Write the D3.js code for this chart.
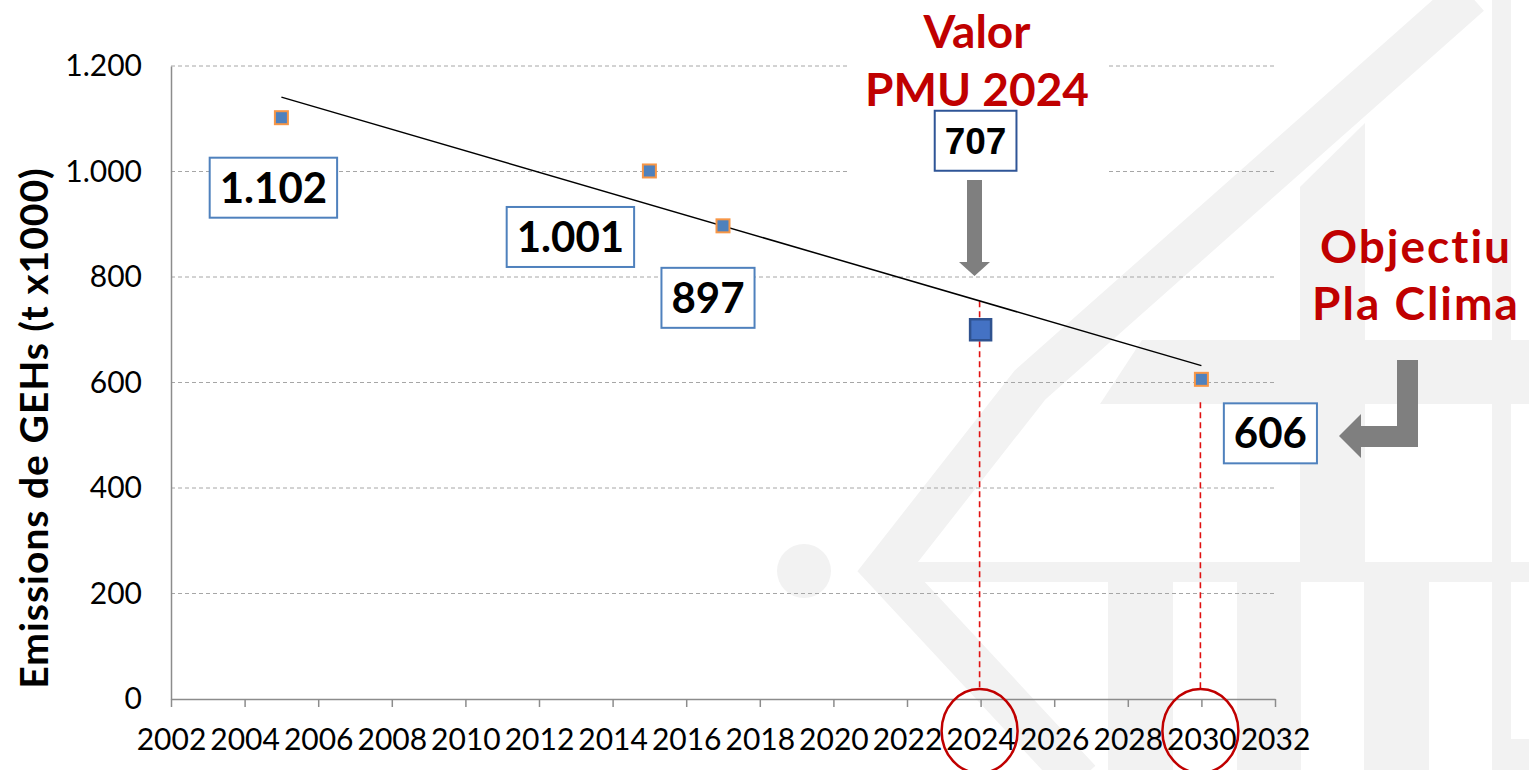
<!DOCTYPE html>
<html>
<head>
<meta charset="utf-8">
<script src="https://cdn.jsdelivr.net/npm/d3@7"></script>
<style>
  body { margin: 0; background: #fff; }
  svg { display: block; }
</style>
</head>
<body>
<svg id="chart"></svg>
<script>
// Data
const years = [2005, 2015, 2017, 2030];
const emissions = [1102, 1001, 897, 606];
const labelTexts = ["1.102", "1.001", "897", "606"];
const pmuYear = 2024;
const pmuValue = 700;
const pmuLabel = "707";
const trendYears = [2005, 2030];
const trendValues = [1141, 632];
const highlightYears = [2024, 2030];
const xTicks = [2002, 2004, 2006, 2008, 2010, 2012, 2014, 2016, 2018, 2020, 2022, 2024, 2026, 2028, 2030, 2032];
const yTicks = [0, 200, 400, 600, 800, 1000, 1200];
const yTitle = "Emissions de GEHs (t x1000)";
const pmuTitle = ["Valor", "PMU 2024"];
const goalTitle = ["Objectiu", "Pla Clima"];

const W = 1529, H = 770;
const plot = { left: 171, right: 1275, top: 66, bottom: 699 };

const svg = d3.select("#chart").attr("width", W).attr("height", H);

const x = d3.scaleLinear().domain([2002, 2032]).range([plot.left, plot.right]);
const y = d3.scaleLinear().domain([0, 1200]).range([plot.bottom, plot.top]);

const locale = d3.formatLocale({ decimal: ",", thousands: ".", grouping: [3], currency: ["", "€"] });
const fmt = locale.format(",d");

const tickFont = "Lato, 'Open Sans', sans-serif";
const boldFont = "Lato, 'Open Sans', sans-serif";

// Background watermark (light grey logo)
const wm = svg.append("g").attr("fill", "#f2f2f2").attr("stroke", "none");
wm.append("path")
    .attr("d", "M1470,-5 L1030,385 L885,570 L1080,780")
    .attr("fill", "none").attr("stroke", "#f2f2f2").attr("stroke-width", 42)
    .attr("stroke-linejoin", "miter");
wm.append("circle").attr("cx", 804).attr("cy", 571).attr("r", 27);
wm.append("path").attr("d", "M1142,340 L1529,340 L1529,404 L1100,404 Z");
wm.append("path").attr("d", "M917,562 L1529,562 L1529,582 L917,582 L905,572 Z");
wm.append("path").attr("d", "M1300,187 L1365,123 L1365,562 L1300,562 Z");
wm.append("rect").attr("x", 1492).attr("y", 0).attr("width", 19).attr("height", 739);
wm.append("rect").attr("x", 1492).attr("y", 739).attr("width", 37).attr("height", 31);
[[1108, 1173], [1237, 1301], [1364, 1429]].forEach(([a, b]) => {
    wm.append("rect").attr("x", a).attr("y", 582).attr("width", b - a).attr("height", H - 582);
});

// Gridlines
svg.append("g")
    .selectAll("line")
    .data(yTicks.filter(d => d > 0))
    .enter().append("line")
    .attr("x1", plot.left).attr("x2", plot.right)
    .attr("y1", d => y(d)).attr("y2", d => y(d))
    .attr("stroke", "#a6a6a6").attr("stroke-width", 1)
    .attr("stroke-dasharray", "4,3");

// White panel behind the "Valor PMU 2024" title
svg.append("rect")
    .attr("x", 847).attr("y", 0).attr("width", 261).attr("height", 173)
    .attr("fill", "#fff");

// Axes
const xAxis = svg.append("g")
    .attr("transform", `translate(0,${plot.bottom})`)
    .call(d3.axisBottom(x).tickValues(xTicks).tickSize(8).tickSizeOuter(0).tickPadding(22).tickFormat(d3.format("d")));
const yAxis = svg.append("g")
    .attr("transform", `translate(${plot.left},0)`)
    .call(d3.axisLeft(y).tickValues(yTicks).tickSize(0).tickPadding(29).tickFormat(fmt));

[xAxis, yAxis].forEach(g => {
    g.select(".domain").attr("stroke", "#8c8c8c").attr("stroke-width", 1.5);
    g.selectAll(".tick line").attr("stroke", "#8c8c8c").attr("stroke-width", 1.5);
    g.selectAll(".tick text")
        .attr("fill", "#000")
        .style("font-family", tickFont)
        .style("font-size", "30px");
});

// Y-axis title
svg.append("text")
    .attr("transform", "translate(48,428) rotate(-90)")
    .attr("text-anchor", "middle")
    .style("font-family", boldFont)
    .style("font-weight", "bold")
    .style("font-size", "39px")
    .style("letter-spacing", "1px")
    .attr("fill", "#000")
    .text(yTitle);

// Red dashed guide lines and circles around highlighted years
const guideStart = [y(trendValues[0] + (trendValues[1] - trendValues[0]) * (2024 - trendYears[0]) / (trendYears[1] - trendYears[0])), y(emissions[3]) + 23];
const guides = svg.append("g");
highlightYears.forEach((yr, i) => {
    guides.append("line")
        .attr("x1", x(yr) - 1).attr("x2", x(yr) - 1)
        .attr("y1", guideStart[i]).attr("y2", 689)
        .attr("stroke", "#e01010").attr("stroke-width", 1.6)
        .attr("stroke-dasharray", "6,4");
    guides.append("ellipse")
        .attr("cx", x(yr) - 1).attr("cy", 731)
        .attr("rx", 38).attr("ry", 42)
        .attr("fill", "none").attr("stroke", "#c00000").attr("stroke-width", 2.5);
});

// Trend line
svg.append("path")
    .datum(trendYears.map((yr, i) => [yr, trendValues[i]]))
    .attr("d", d3.line().x(d => x(d[0])).y(d => y(d[1])))
    .attr("fill", "none").attr("stroke", "#000").attr("stroke-width", 1.5);

// Markers
svg.append("g")
    .selectAll("rect")
    .data(years.map((yr, i) => ({ yr, v: emissions[i] })))
    .enter().append("rect")
    .attr("x", d => x(d.yr) - 6.5).attr("y", d => y(d.v) - 6.5)
    .attr("width", 13).attr("height", 13)
    .attr("fill", "#4f81bd").attr("stroke", "#f79646").attr("stroke-width", 2);

svg.append("rect")
    .attr("x", x(pmuYear) - 10.5).attr("y", y(pmuValue) - 10.5)
    .attr("width", 21).attr("height", 21)
    .attr("fill", "#4472c4").attr("stroke", "#2f528f").attr("stroke-width", 2.5);

// Value label boxes
function labelBox(cx, cy, txt, font, size, border) {
    const g = svg.append("g");
    const r = g.append("rect");
    const t = g.append("text")
        .attr("x", cx).attr("y", cy + size * 0.36)
        .attr("text-anchor", "middle")
        .style("font-family", font)
        .style("font-weight", "bold")
        .style("font-size", size + "px")
        .attr("fill", "#000")
        .text(txt);
    const w = t.node().getComputedTextLength() + 20;
    const h = 60;
    r.attr("x", cx - w / 2).attr("y", cy - h / 2).attr("width", w).attr("height", h)
        .attr("fill", "#fff").attr("stroke", border).attr("stroke-width", 2);
}

const labelOffsets = [[-8, 70], [-79, 66], [-15, 72], [69, 54]];
years.forEach((yr, i) => {
    labelBox(x(yr) + labelOffsets[i][0], y(emissions[i]) + labelOffsets[i][1], labelTexts[i], boldFont, 42, "#4f81bd");
});
labelBox(x(pmuYear) - 5, y(pmuValue) - 189, pmuLabel, "'Liberation Sans', Arial, sans-serif", 37, "#2f5597");

// Red titles
function redTitle(cx, baselines, lines, spacing) {
    lines.forEach((ln, i) => {
        svg.append("text")
            .attr("x", cx).attr("y", baselines[i])
            .attr("text-anchor", "middle")
            .style("font-family", boldFont)
            .style("font-weight", "bold")
            .style("font-size", "46px")
            .style("letter-spacing", spacing + "px")
            .attr("fill", "#c00000")
            .text(ln);
    });
}
redTitle(977, [48, 106], pmuTitle, 0);
redTitle(1416, [263, 320], goalTitle, 2);

// Grey arrows
svg.append("path")
    .attr("d", "M967,180 L982,180 L982,262 L990,262 L974.5,276 L959,262 L967,262 Z")
    .attr("fill", "#7f7f7f");
svg.append("path")
    .attr("d", "M1397,360 L1418,360 L1418,447 L1361,447 L1361,458 L1339,436 L1361,414 L1361,426 L1397,426 Z")
    .attr("fill", "#7f7f7f");
</script>
</body>
</html>
